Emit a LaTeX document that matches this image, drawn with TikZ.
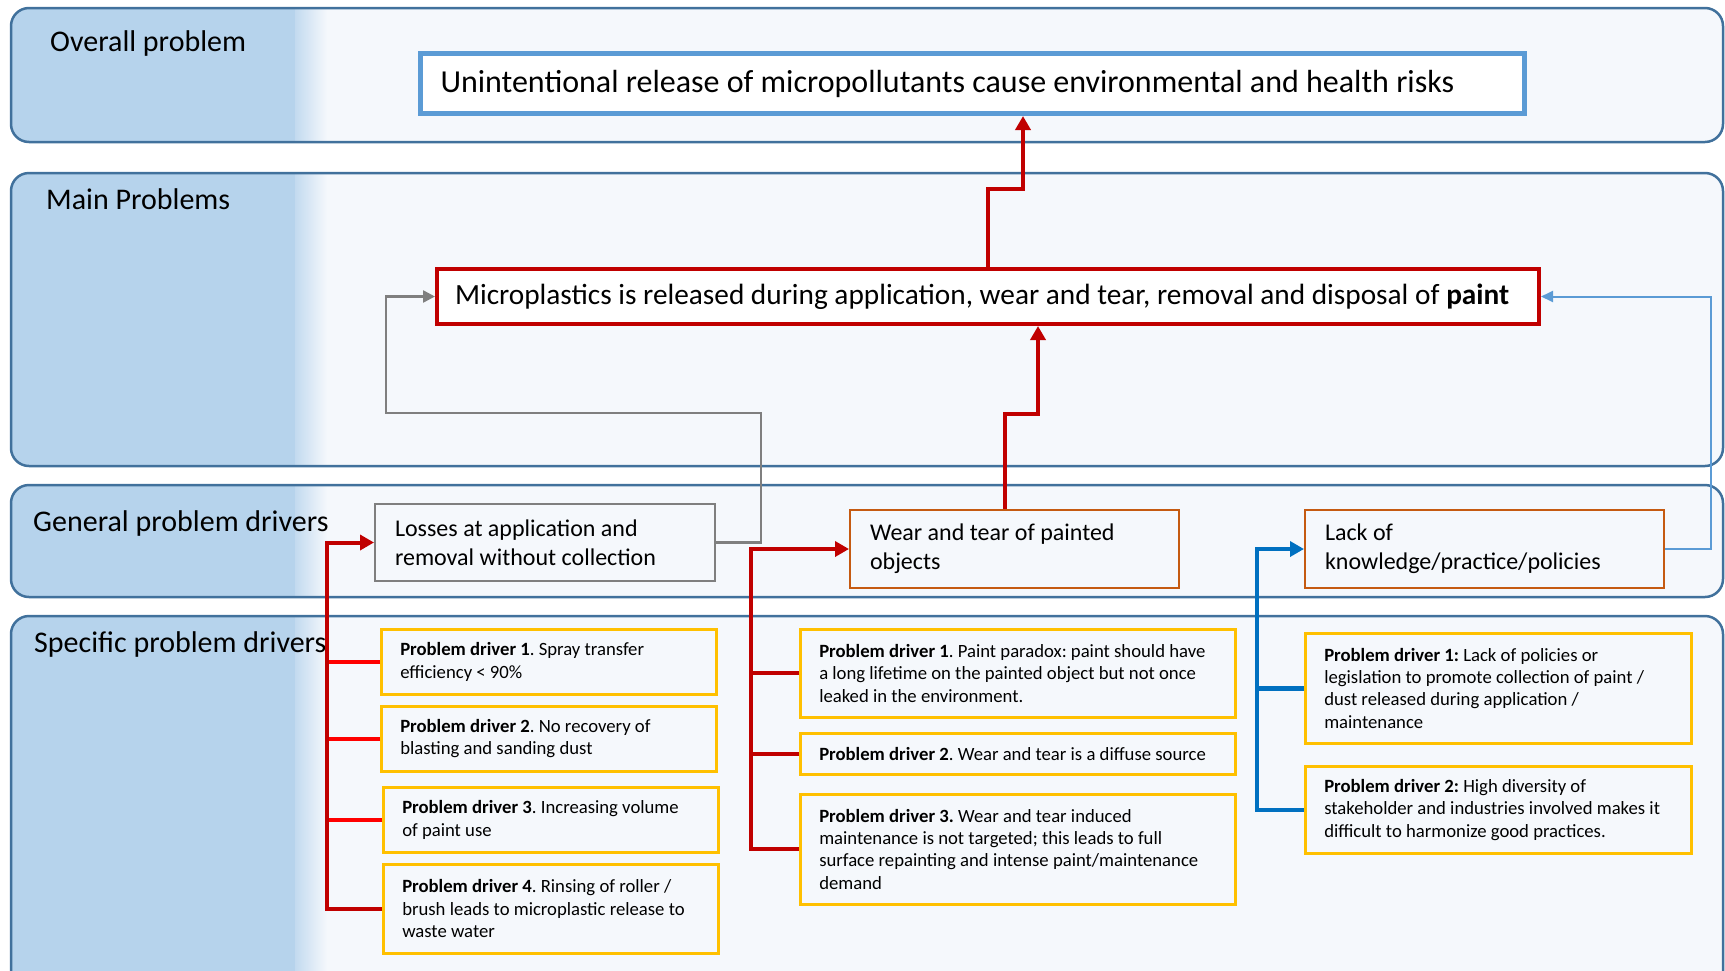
\documentclass[tikz,border=0pt]{standalone}
\usepackage{fontspec}
\setmainfont{Carlito}
\frenchspacing
\usetikzlibrary{arrows.meta}

\definecolor{bandline}{RGB}{65,113,156}
\definecolor{bandblue}{RGB}{182,211,236}
\definecolor{bandfill}{RGB}{245,248,252}
\definecolor{skyblue}{RGB}{91,155,213}
\definecolor{deepred}{RGB}{192,0,0}
\definecolor{brightred}{RGB}{255,0,0}
\definecolor{linegray}{RGB}{127,127,127}
\definecolor{burnt}{RGB}{197,90,17}
\definecolor{gold}{RGB}{255,192,0}
\definecolor{royal}{RGB}{0,112,192}

\begin{document}
\begin{tikzpicture}[
        x=1pt, y=-1pt,
        every node/.style={
            font=\fontsize{18.7pt}{22.4pt}\selectfont
        },
        band/.style={
            draw=bandline,
            line width=2.5pt,
            rounded corners=18pt
        },
        bandlabel/.style={
            anchor=base west,
            inner sep=0pt,
            font=\fontsize{30pt}{36pt}\selectfont
        },
        overall/.style={
            rectangle,
            draw=skyblue,
            line width=5pt,
            fill=white,
            anchor=north west,
            inner xsep=20pt,
            inner ysep=2pt,
            align=flush left,
            font=\fontsize{32pt}{38pt}\selectfont
        },
        mainprob/.style={
            rectangle,
            draw=deepred,
            line width=4pt,
            fill=white,
            anchor=north west,
            inner xsep=18pt,
            inner ysep=2pt,
            align=flush left,
            font=\fontsize{29.3pt}{35pt}\selectfont
        },
        general/.style={
            rectangle,
            draw=burnt,
            line width=2pt,
            fill=bandfill,
            anchor=north west,
            inner xsep=20pt,
            inner ysep=2pt,
            align=flush left,
            font=\fontsize{24pt}{29pt}\selectfont
        },
        driver/.style={
            rectangle,
            draw=gold,
            line width=2.5pt,
            fill=bandfill,
            anchor=north west,
            inner xsep=19pt,
            inner ysep=2pt,
            align=flush left
        },
        redarrow/.style={
            -{Triangle[length=14pt,width=15pt]},
            line width=4pt,
            draw=deepred
        },
        redline/.style={
            line width=4pt,
            draw=deepred
        },
        grayarrow/.style={
            -{Triangle[length=12pt,width=12pt]},
            line width=2.5pt,
            draw=linegray
        },
        blueline/.style={
            line width=4.5pt,
            draw=royal
        },
        bluearrow/.style={
            blueline,
            -{Triangle[length=14pt,width=15pt]}
        },
        thinblue/.style={
            -{Triangle[length=12pt,width=11pt]},
            line width=2pt,
            draw=skyblue
        }
    ]

    \useasboundingbox (0,0) rectangle (1725,970);

    % rows
    \foreach \ytop/\ybot in {8/142,173/466,485/597,616/1012} {
        \begin{scope}
            \clip[rounded corners=18pt] (11,\ytop) rectangle (1723,\ybot);
            \fill[bandfill] (11,\ytop) rectangle (1723,\ybot);
            \fill[bandblue] (11,\ytop) rectangle (295,\ybot);
            \shade[left color=bandblue!80!bandfill, right color=bandfill]
                (295,\ytop) rectangle (327,\ybot);
        \end{scope}
        \draw[band] (11,\ytop) rectangle (1723,\ybot);
    }

    \node[bandlabel] (lbloverall) at (50,51) {Overall problem};
    \node[bandlabel] (lblmain) at (46,209) {Main Problems};
    \node[bandlabel] (lblgeneral) at (33,531) {General problem drivers};
    \node[bandlabel] (lblspecific) at (34,652) {Specific problem drivers};

    \node[overall, text width=1064pt, minimum height=60pt] (risk) at (418,51)
        {Unintentional release of micropollutants cause environmental and health risks};

    \node[mainprob, text width=1066pt, minimum height=55pt] (micro) at (435,267)
        {Microplastics is released during application, wear and tear, removal and disposal of \textbf{paint}};

    \node[general, draw=linegray, text width=300pt, minimum height=77pt] (losses) at (374,503)
        {Losses at application and\\
         removal without collection};

    \node[general, text width=289pt, minimum height=78pt] (wear) at (849,509)
        {Wear and tear of painted\\
         objects};

    \node[general, text width=319pt, minimum height=78pt] (lack) at (1304,509)
        {Lack of\\
         knowledge/practice/policies};

    % losses drivers
    \node[driver, text width=297pt, minimum height=65pt] (lossa) at (380,628)
        {\textbf{Problem driver 1}. Spray transfer\\
         efficiency < 90\%};
    \node[driver, text width=297pt, minimum height=65pt] (lossb) at (380,705)
        {\textbf{Problem driver 2}. No recovery of\\
         blasting and sanding dust};
    \node[driver, text width=297pt, minimum height=65pt] (lossc) at (382,786)
        {\textbf{Problem driver 3}. Increasing volume\\
         of paint use};
    \node[driver, text width=297pt, minimum height=89pt] (lossd) at (382,863)
        {\textbf{Problem driver 4}. Rinsing of roller /\\
         brush leads to microplastic release to\\
         waste water};

    % wear drivers
    \node[driver, text width=397pt, minimum height=88pt] (weara) at (799,628)
        {\textbf{Problem driver 1}. Paint paradox: paint should have\\
         a long lifetime on the painted object but not once\\
         leaked in the environment.};
    \node[driver, text width=397pt, minimum height=41pt] (wearb) at (799,732)
        {\textbf{Problem driver 2}. Wear and tear is a diffuse source};
    \node[driver, text width=397pt, minimum height=110pt] (wearc) at (799,793)
        {\textbf{Problem driver 3.} Wear and tear induced\\
         maintenance is not targeted; this leads to full\\
         surface repainting and intense paint/maintenance\\
         demand};

    % knowledge drivers
    \node[driver, text width=348pt, minimum height=110pt] (lacka) at (1304,632)
        {\textbf{Problem driver 1:} Lack of policies or\\
         legislation to promote collection of paint /\\
         dust released during application /\\
         maintenance};
    \node[driver, text width=348pt, minimum height=87pt] (lackb) at (1304,765)
        {\textbf{Problem driver 2:} High diversity of\\
         stakeholder and industries involved makes it\\
         difficult to harmonize good practices.};

    \coordinate (upa) at (1023,189);
    \coordinate (upb) at (1038,414);
    \coordinate (grayx) at (761,413);
    \coordinate (grayy) at (386,0);
    \coordinate (bluex) at (1711,0);
    \coordinate (trunka) at (327,0);
    \coordinate (trunkb) at (751,0);
    \coordinate (trunkc) at (1257,0);

    \draw[redarrow] (micro.north) |- (upa) -- (upa |- risk.south);
    \draw[redarrow] ([xshift=-9.5pt]wear.north) |- (upb) -- (upb |- micro.south);
    \draw[grayarrow] (losses.east) -| (grayx) -| (grayy |- micro.west) -- (micro.west);
    \draw[thinblue] (lack.east) -| (bluex |- micro.east) -- (micro.east);

    \draw[redline, brightred] (lossa.west) -- (trunka |- lossa.west);
    \draw[redline, brightred] (lossb.west) -- (trunka |- lossb.west);
    \draw[redline, brightred] (lossc.west) -- (trunka |- lossc.west);
    \draw[redarrow] (lossd.west) -| (trunka |- losses.west) -- (losses.west);

    \draw[redline] (weara.west) -- (trunkb |- weara.west);
    \draw[redline] (wearb.west) -- (trunkb |- wearb.west);
    \draw[redarrow] (wearc.west) -| (trunkb |- wear.west) -- (wear.west);

    \draw[blueline] (lacka.west) -- (trunkc |- lacka.west);
    \draw[bluearrow] (lackb.west) -| (trunkc |- lack.west) -- (lack.west);

\end{tikzpicture}
\end{document}
